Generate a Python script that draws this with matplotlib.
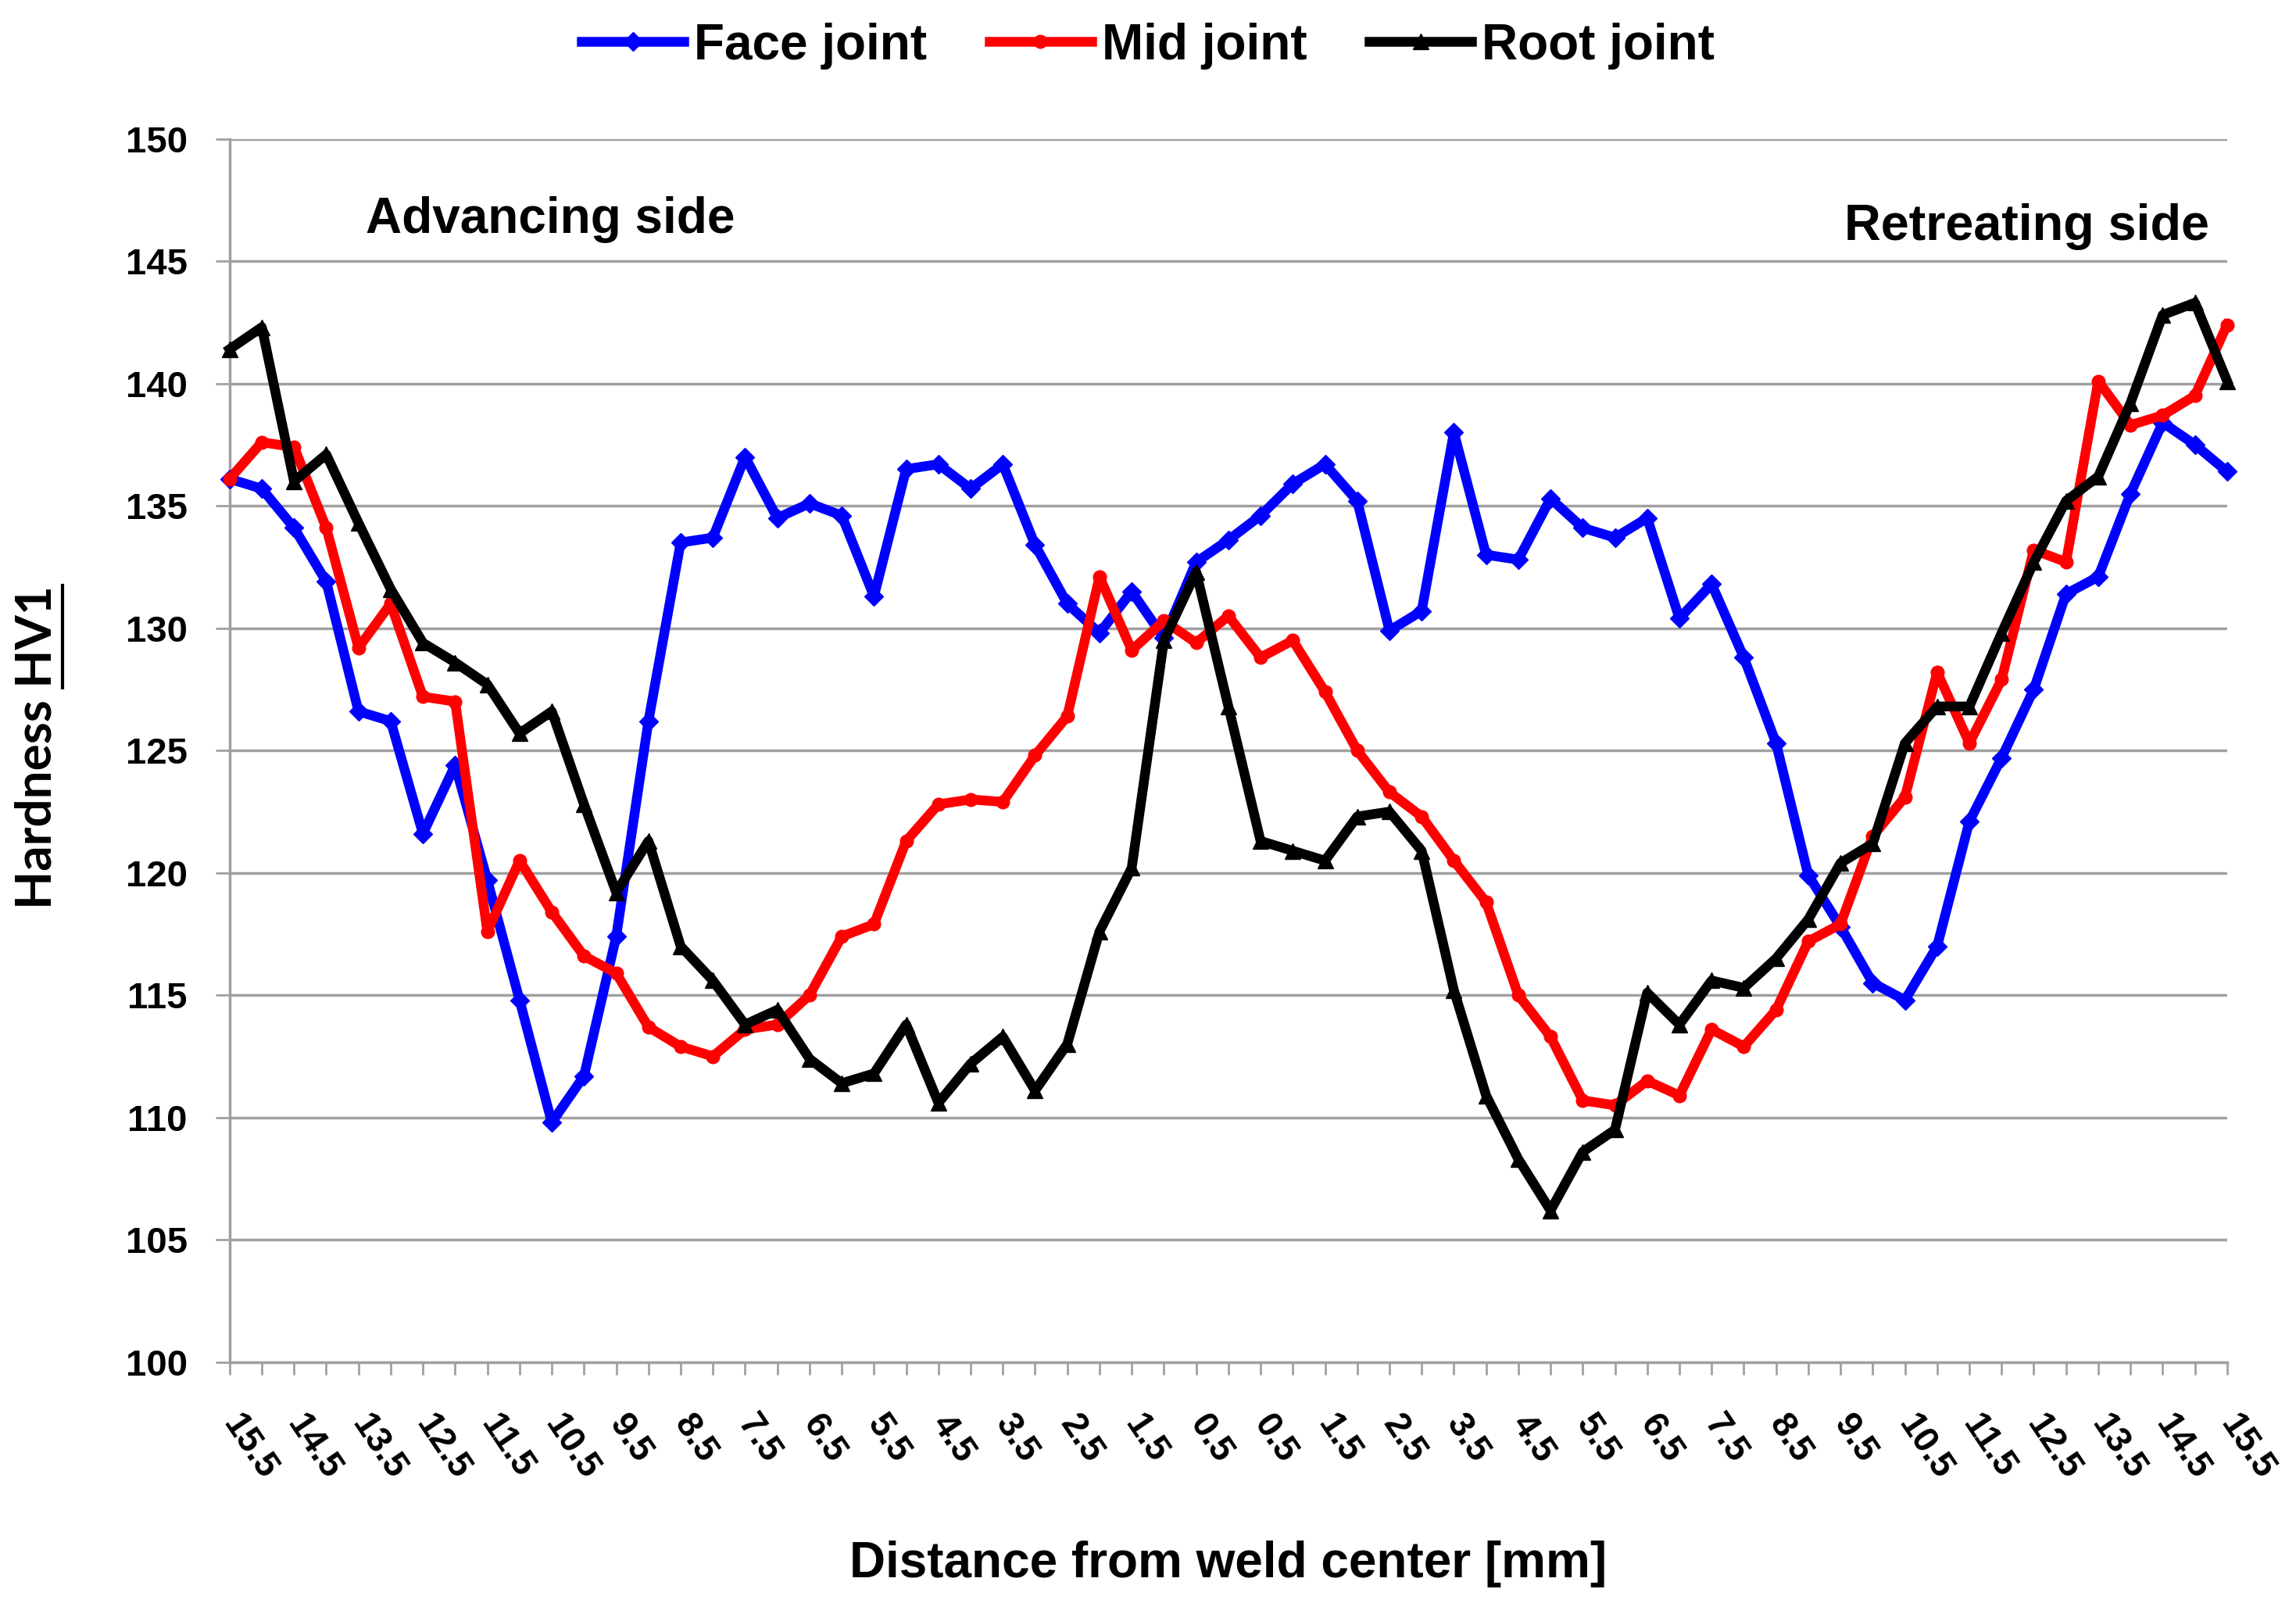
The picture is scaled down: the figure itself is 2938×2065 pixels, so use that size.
import matplotlib
matplotlib.use('Agg')
import matplotlib.pyplot as plt
from matplotlib.lines import Line2D

plt.rcParams['font.family'] = ['Liberation Sans', 'DejaVu Sans']

# distance from weld center (category labels, 0.5 mm step)
distance = ['15.5', '15', '14.5', '14', '13.5', '13', '12.5', '12', '11.5', '11',
            '10.5', '10', '9.5', '9', '8.5', '8', '7.5', '7', '6.5', '6',
            '5.5', '5', '4.5', '4', '3.5', '3', '2.5', '2', '1.5', '1',
            '0.5', '0', '0.5', '1', '1.5', '2', '2.5', '3', '3.5', '4',
            '4.5', '5', '5.5', '6', '6.5', '7', '7.5', '8', '8.5', '9',
            '9.5', '10', '10.5', '11', '11.5', '12', '12.5', '13', '13.5', '14',
            '14.5', '15', '15.5']

face = [136.1, 135.7, 134.1, 131.9, 126.6, 126.2, 121.6, 124.4, 119.7, 114.8,
        109.8, 111.7, 117.4, 126.2, 133.5, 133.7, 137.0, 134.5, 135.1, 134.6,
        131.3, 136.5, 136.7, 135.7, 136.7, 133.4, 131.0, 129.8, 131.5, 129.6,
        132.7, 133.6, 134.6, 135.9, 136.7, 135.2, 129.9, 130.7, 138.0, 133.0,
        132.8, 135.3, 134.1, 133.7, 134.5, 130.4, 131.8, 128.8, 125.3, 119.9,
        117.8, 115.5, 114.8, 117.0, 122.1, 124.7, 127.5, 131.4, 132.1, 135.5,
        138.4, 137.5, 136.4]

mid = [136.1, 137.6, 137.4, 134.1, 129.2, 131.0, 127.2, 127.0, 117.6, 120.5,
       118.4, 116.6, 115.9, 113.7, 112.9, 112.5, 113.6, 113.8, 115.0, 117.4,
       117.9, 121.3, 122.8, 123.0, 122.9, 124.8, 126.4, 132.1, 129.1, 130.3,
       129.4, 130.5, 128.8, 129.5, 127.4, 125.0, 123.3, 122.3, 120.5, 118.8,
       115.0, 113.3, 110.7, 110.5, 111.5, 110.9, 113.6, 112.9, 114.4, 117.2,
       117.9, 121.5, 123.1, 128.2, 125.3, 127.9, 133.2, 132.7, 140.1, 138.3,
       138.7, 139.5, 142.4]

root = [141.4, 142.3, 136.0, 137.1, 134.3, 131.6, 129.4, 128.6, 127.7, 125.7,
        126.6, 122.8, 119.2, 121.3, 117.0, 115.6, 113.8, 114.4, 112.4, 111.4,
        111.8, 113.8, 110.6, 112.2, 113.3, 111.1, 113.0, 117.6, 120.2, 129.5,
        132.3, 126.8, 121.3, 120.9, 120.5, 122.3, 122.5, 120.9, 115.2, 110.9,
        108.3, 106.2, 108.6, 109.5, 115.1, 113.8, 115.6, 115.3, 116.5, 118.1,
        120.4, 121.2, 125.3, 126.8, 126.8, 129.8, 132.7, 135.2, 136.2, 139.2,
        142.8, 143.3, 140.1]

series = [('Face joint', face, '#0000FF', 'D', 12),
          ('Mid joint', mid, '#FF0000', 'o', 12),
          ('Root joint', root, '#000000', '^', 15)]

fig = plt.figure(figsize=(29.38, 20.65), dpi=100)
ax = fig.add_axes([0.100, 0.156, 0.870, 0.758])

x = list(range(len(distance)))
for name, vals, col, mk, ms in series:
    ax.plot(x, vals, color=col, lw=9, marker=mk, markersize=ms,
            label=name, clip_on=False, zorder=3)

ax.set_xlim(0, len(distance) - 1)
ax.set_ylim(100, 150)
ax.set_yticks(range(100, 151, 5))
ax.yaxis.grid(True, color='#A0A0A0', lw=2.5)
ax.set_axisbelow(True)
ax.set_xticks(x)
ax.set_xticklabels([d if i % 2 == 0 else '' for i, d in enumerate(distance)],
                   rotation=-56, ha='left', va='center', rotation_mode='anchor',
                   fontsize=33, fontweight='bold')
ax.tick_params(axis='x', length=11.5, width=2, color='#A0A0A0', pad=40)
ax.tick_params(axis='y', length=13, width=2, color='#A0A0A0', pad=26,
               labelsize=34)
for lab in ax.get_yticklabels():
    lab.set_fontweight('bold')
for s in ['top', 'right']:
    ax.spines[s].set_visible(False)
for s in ['left', 'bottom']:
    ax.spines[s].set_color('#A0A0A0')
    ax.spines[s].set_linewidth(2.5)

ax.text(0.068, 0.934, 'Advancing side', transform=ax.transAxes,
        fontsize=46, fontweight='bold', ha='left', va='center')
ax.text(0.991, 0.928, 'Retreating side', transform=ax.transAxes,
        fontsize=46.5, fontweight='bold', ha='right', va='center')

fig.text(0.535, 0.031, 'Distance from weld center [mm]', fontsize=46,
         fontweight='bold', ha='center', va='center')

ylab = fig.text(0.016, 0.537, 'Hardness HV1', fontsize=46, fontweight='bold',
                family=['Lato', 'DejaVu Sans'], rotation=90,
                ha='center', va='center')

leg = fig.legend(loc='upper center', bbox_to_anchor=(0.5, 1.014), ncol=3,
                 frameon=False, handlelength=2.05,
                 handletextpad=0.2, columnspacing=1.25,
                 prop={'weight': 'bold', 'size': 46})

# underline "HV1" in the y label
fig.canvas.draw()
r = fig.canvas.get_renderer()
bb = ylab.get_window_extent(r)
tmp = fig.text(0, 0, 'Hardness ', fontsize=46, fontweight='bold',
               family=['Lato', 'DejaVu Sans'], rotation=90)
hb = tmp.get_window_extent(r)
tmp.remove()
W, H = fig.bbox.width, fig.bbox.height
ux = (bb.x1 + 4) / W
fig.add_artist(Line2D([ux, ux], [(bb.y0 + hb.height) / H, bb.y1 / H],
                      color='black', lw=3, transform=fig.transFigure))

fig.savefig('out.png', dpi=100)
